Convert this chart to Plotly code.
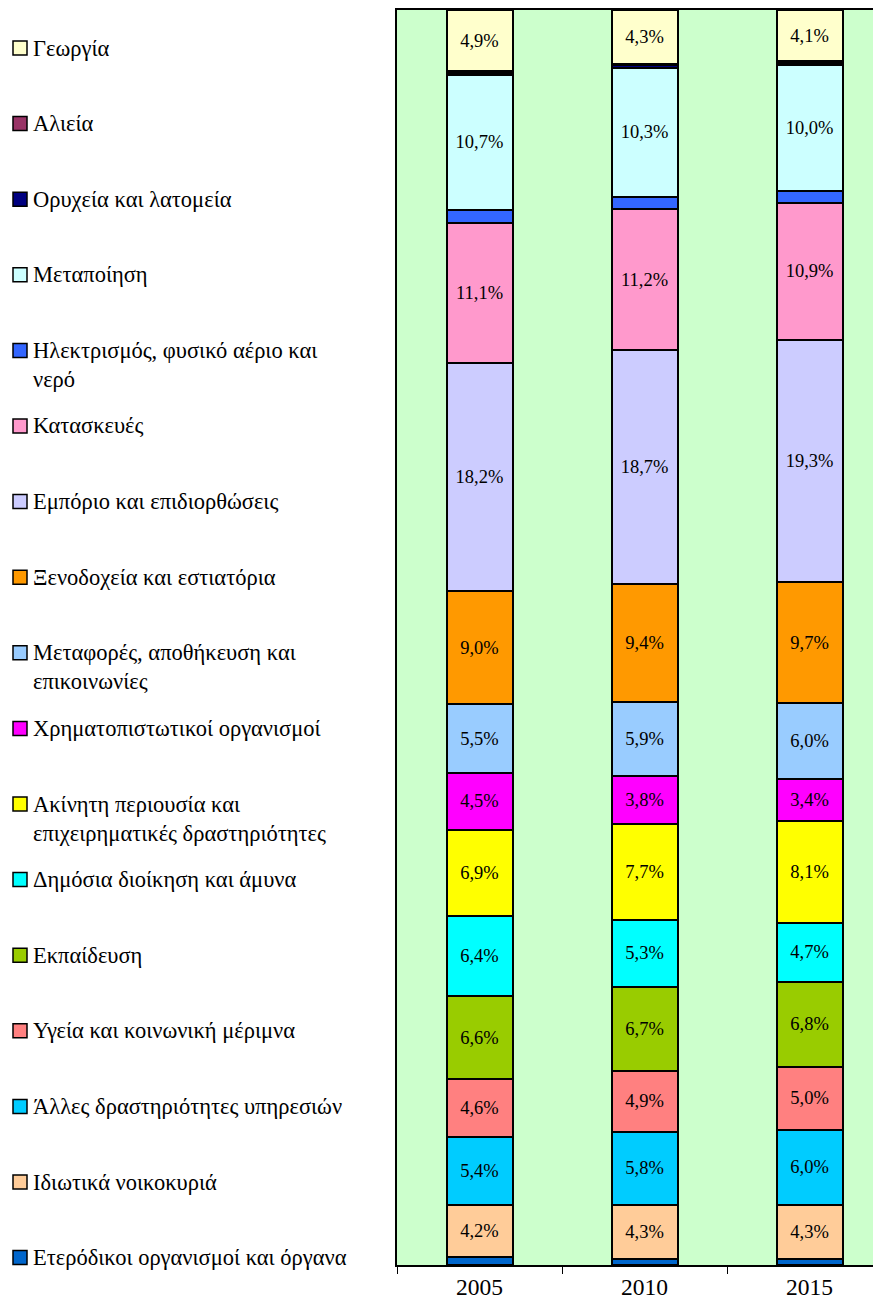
import plotly.graph_objects as go

years = ['2005', '2010', '2015']

# legend order (top -> bottom); stacks go bottom -> top, so reversed when drawn
sectors = [
    'Γεωργία',
    'Αλιεία',
    'Ορυχεία και λατομεία',
    'Μεταποίηση',
    'Ηλεκτρισμός, φυσικό αέριο και<br>νερό',
    'Κατασκευές',
    'Εμπόριο και επιδιορθώσεις',
    'Ξενοδοχεία και εστιατόρια',
    'Μεταφορές, αποθήκευση και<br>επικοινωνίες',
    'Χρηματοπιστωτικοί οργανισμοί',
    'Ακίνητη περιουσία και<br>επιχειρηματικές δραστηριότητες',
    'Δημόσια διοίκηση και άμυνα',
    'Εκπαίδευση',
    'Υγεία και κοινωνική μέριμνα',
    'Άλλες δραστηριότητες υπηρεσιών',
    'Ιδιωτικά νοικοκυριά',
    'Ετερόδικοι οργανισμοί και όργανα',
]

georgia = [4.9, 4.3, 4.1]
alieia = [0.1, 0.1, 0.1]
oryxeia = [0.2, 0.2, 0.2]
metapoiisi = [10.7, 10.3, 10.0]
ilektrismos = [1.1, 1.0, 1.0]
kataskeves = [11.1, 11.2, 10.9]
emporio = [18.2, 18.7, 19.3]
xenodoxeia = [9.0, 9.4, 9.7]
metafores = [5.5, 5.9, 6.0]
xrimatopist = [4.5, 3.8, 3.4]
akiniti = [6.9, 7.7, 8.1]
dimosia = [6.4, 5.3, 4.7]
ekpaideusi = [6.6, 6.7, 6.8]
ygeia = [4.6, 4.9, 5.0]
alles = [5.4, 5.8, 6.0]
idiotika = [4.2, 4.3, 4.3]
eterodikoi = [0.6, 0.5, 0.5]

values = [georgia, alieia, oryxeia, metapoiisi, ilektrismos, kataskeves, emporio,
          xenodoxeia, metafores, xrimatopist, akiniti, dimosia, ekpaideusi, ygeia,
          alles, idiotika, eterodikoi]

colors = ['#FFFFCC', '#993366', '#000080', '#CCFFFF', '#3366FF', '#FF99CC', '#CCCCFF',
          '#FF9900', '#99CCFF', '#FF00FF', '#FFFF00', '#00FFFF', '#99CC00', '#FF8080',
          '#00CCFF', '#FFCC99', '#0066CC']

# thin slices carry no label
labelled = [True, False, False, True, False, True, True, True, True, True, True,
            True, True, True, True, True, False]

FONT = 'Liberation Serif, Times New Roman, DejaVu Serif, serif'

fig = go.Figure()
for i in reversed(range(len(sectors))):
    txt = [(f'{v:.1f}%').replace('.', ',') for v in values[i]] if labelled[i] else None
    fig.add_trace(go.Bar(
        x=years, y=values[i], name=sectors[i].replace('<br>', ' '),
        marker=dict(color=colors[i], line=dict(color='black', width=2)),
        width=0.4, text=txt,
        textposition='inside' if labelled[i] else 'none',
        insidetextanchor='middle', textangle=0,
        textfont=dict(family=FONT, size=18.5, color='black'),
        showlegend=False, hoverinfo='name+y'))

# page body has an 8px margin, so work in page pixels and shift back
OFF = 8
W, H = 881 - OFF, 1308 - OFF
L, T, B = 397 - OFF, 10 - OFF, 1265 - OFF
pw, ph = W - L, B - T
def px(x):
    return (x - OFF - L) / pw
def py(y):
    return (B - (y - OFF)) / ph

shapes = []
annotations = []
for i, name in enumerate(sectors):
    yc = 48 + i * 75.6
    shapes.append(dict(type='rect', xref='paper', yref='paper',
                       x0=px(13), x1=px(27), y0=py(yc + 7), y1=py(yc - 7),
                       fillcolor=colors[i], line=dict(color='black', width=1.5)))
    for k, line in enumerate(name.split('<br>')):
        annotations.append(dict(xref='paper', yref='paper', x=px(31), y=py(yc + k * 29),
                                text=line, showarrow=False, xanchor='left', yanchor='middle',
                                font=dict(family=FONT, size=22.5, color='black')))

fig.update_layout(
    width=W, height=H,
    barmode='stack', barnorm='percent',
    plot_bgcolor='#CCFFCC', paper_bgcolor='white',
    margin=dict(l=L, r=0, t=T, b=H - B, pad=0),
    shapes=shapes, annotations=annotations,
    font=dict(family=FONT, color='black'),
)
fig.update_xaxes(type='category', range=[-0.5, 2.433], tickson='boundaries',
                 ticks='outside', ticklen=7, tickcolor='black', tickwidth=1,
                 showline=True, linecolor='black', linewidth=1.5, mirror=True,
                 tickfont=dict(family=FONT, size=23.5, color='black'),
                 showgrid=False)
fig.update_yaxes(range=[0, 100], showticklabels=False, showgrid=False, zeroline=False,
                 showline=True, linecolor='black', linewidth=1.5, ticks='')

fig.write_html('out.html')
